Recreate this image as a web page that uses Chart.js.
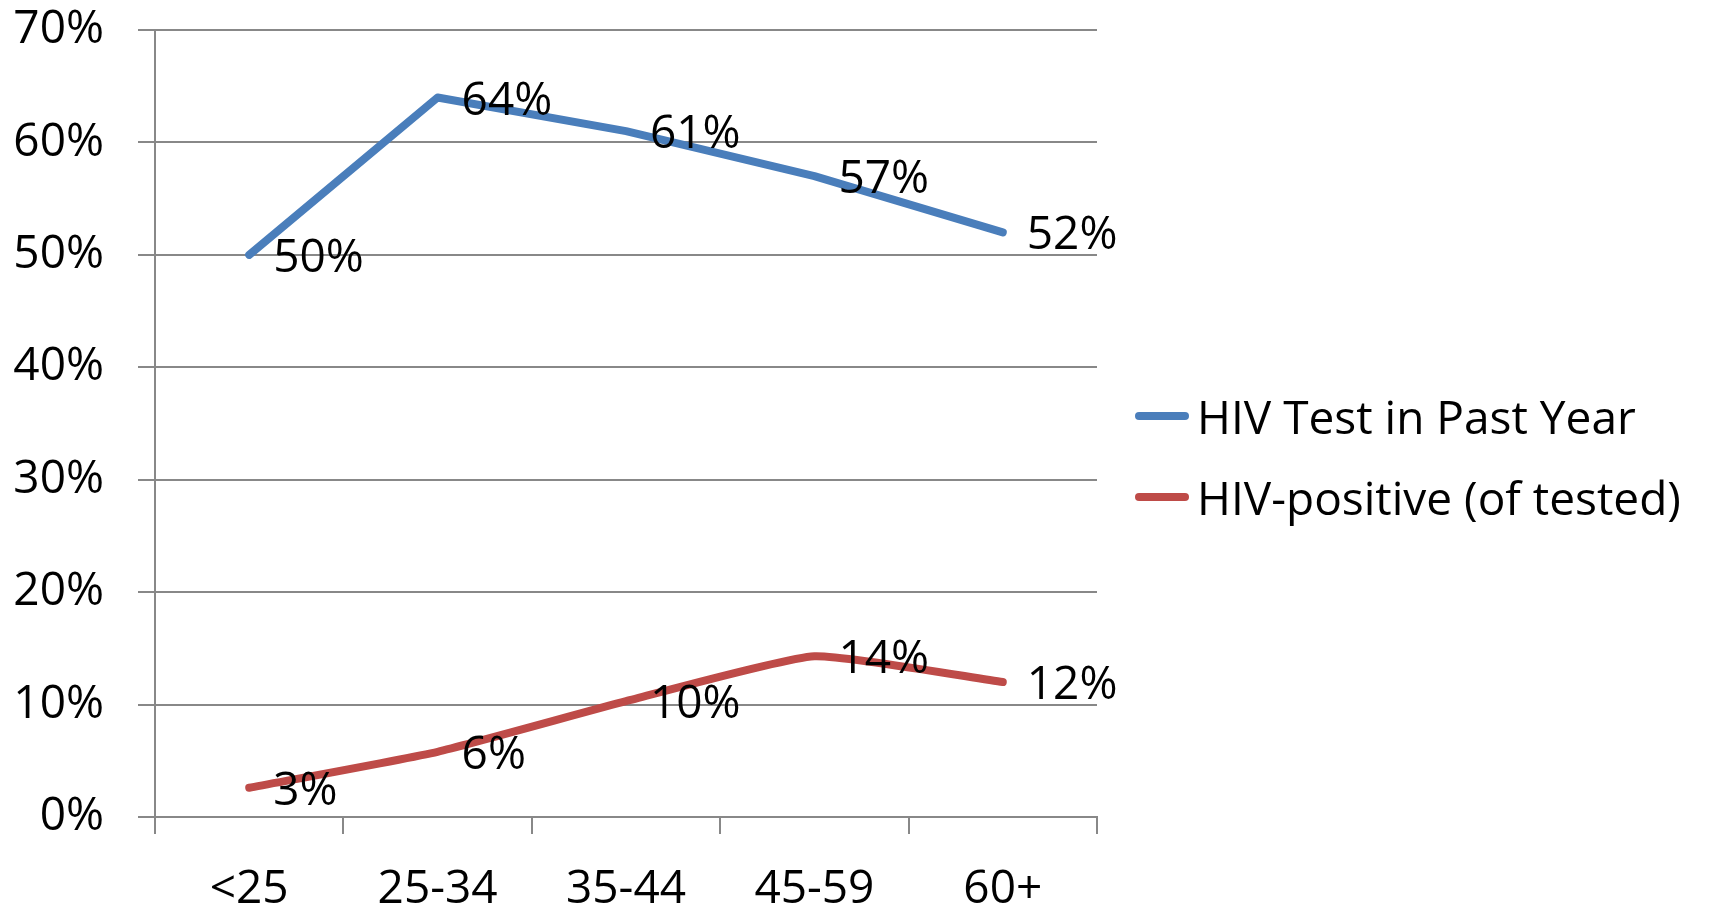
<!DOCTYPE html>
<html>
<head>
<meta charset="utf-8">
<script src="https://cdn.jsdelivr.net/npm/chart.js@4"></script>
<style>
    body { margin: 0; background: #fff; }
    #wrap { position: relative; width: 1711px; height: 908px; }
    #legend { position: absolute; left: 1135px; top: 375px; font-family: "Open Sans", sans-serif; font-size: 46px; color: #000; }
    #legend .item { display: flex; align-items: center; height: 81px; }
    #legend .swatch { width: 54px; height: 8px; border-radius: 4px; margin-right: 8px; }
</style>
</head>
<body>
<div id="wrap">
    <canvas id="chart"></canvas>
    <div id="legend"></div>
</div>
<script>
    const ageGroups = ['<25', '25-34', '35-44', '45-59', '60+'];
    const testedPastYear = [50, 64, 61, 57, 52];
    const hivPositive = [2.6, 5.8, 10.3, 14.3, 12.0];
    const testedLabels = ['50%', '64%', '61%', '57%', '52%'];
    const positiveLabels = ['3%', '6%', '10%', '14%', '12%'];

    const font = { family: '"Open Sans", sans-serif', size: 46 };

    // writes the value next to each point
    const pointLabels = {
        id: 'pointLabels',
        afterDatasetsDraw(chart) {
            const ctx = chart.ctx;
            ctx.save();
            ctx.font = '46px "Open Sans", sans-serif';
            ctx.fillStyle = '#000';
            ctx.textAlign = 'left';
            ctx.textBaseline = 'middle';
            chart.data.datasets.forEach((ds, i) => {
                const meta = chart.getDatasetMeta(i);
                meta.data.forEach((pt, j) => {
                    ctx.fillText(ds.pointText[j], pt.x + 24, pt.y + 4);
                });
            });
            ctx.restore();
        }
    };

    const chart = new Chart(document.getElementById('chart'), {
        type: 'line',
        data: {
            labels: ageGroups,
            datasets: [{
                label: 'HIV Test in Past Year',
                data: testedPastYear,
                pointText: testedLabels,
                borderColor: '#4a7ebb',
                backgroundColor: '#4a7ebb',
                borderWidth: 8,
                borderCapStyle: 'round',
                borderJoinStyle: 'round',
                pointRadius: 0,
                tension: 0
            }, {
                label: 'HIV-positive (of tested)',
                data: hivPositive,
                pointText: positiveLabels,
                borderColor: '#be4b48',
                backgroundColor: '#be4b48',
                borderWidth: 8,
                borderCapStyle: 'round',
                borderJoinStyle: 'round',
                pointRadius: 0,
                tension: 0.15
            }]
        },
        options: {
            responsive: true,
            maintainAspectRatio: false,
            animation: false,
            layout: { padding: { left: 12, top: 30, right: 614, bottom: 0 } },
            plugins: {
                legend: { display: false },
                tooltip: { enabled: false }
            },
            scales: {
                x: {
                    offset: true,
                    grid: { offset: true, drawOnChartArea: false, tickLength: 17, color: '#888', lineWidth: 2 },
                    border: { display: true, color: '#888', width: 2 },
                    ticks: { color: '#000', padding: 33, font: { ...font, lineHeight: 1 } },
                    afterFit(scale) {
                        scale.paddingLeft = 0;
                        scale.paddingRight = 0;
                        scale.height = 91;
                    }
                },
                y: {
                    min: 0,
                    max: 70,
                    grid: { tickLength: 17, color: '#888', lineWidth: 2 },
                    border: { display: true, color: '#888', width: 2 },
                    ticks: {
                        stepSize: 10,
                        color: '#000',
                        padding: 34,
                        font: font,
                        callback: v => v + '%'
                    },
                    afterFit(scale) {
                        scale.paddingTop = 0;
                        scale.paddingBottom = 0;
                        scale.width = 143;
                    }
                }
            }
        },
        plugins: [pointLabels]
    });

    // html legend built from the datasets
    const legend = document.getElementById('legend');
    chart.data.datasets.forEach(ds => {
        const row = document.createElement('div');
        row.className = 'item';
        const sw = document.createElement('span');
        sw.className = 'swatch';
        sw.style.background = ds.borderColor;
        const txt = document.createElement('span');
        txt.textContent = ds.label;
        row.appendChild(sw);
        row.appendChild(txt);
        legend.appendChild(row);
    });
</script>
</body>
</html>
